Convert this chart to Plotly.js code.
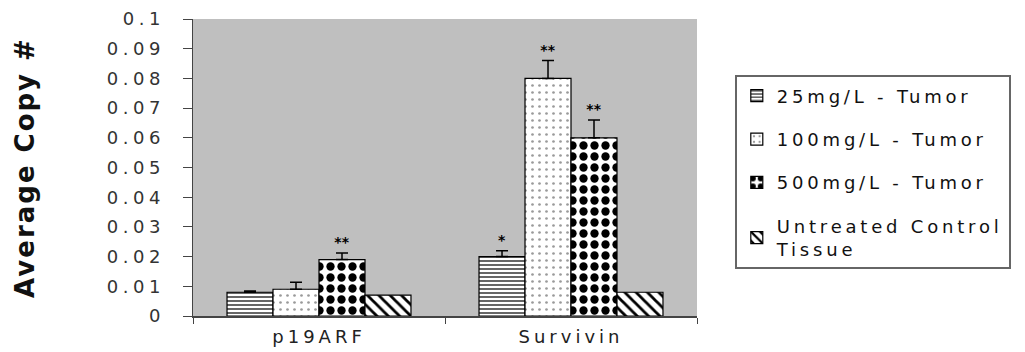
<!DOCTYPE html>
<html>
<head>
<meta charset="utf-8">
<script src="https://cdn.plot.ly/plotly-3.0.1.min.js"></script>
<style>
  html, body { margin: 0; padding: 0; background: #fff; }
  #chart { width: 1025px; height: 352px; }
  .ytick text { letter-spacing: 4.5px; }
  .xtick text { letter-spacing: 4px; }
  .legendtext { letter-spacing: 3.8px; }
  .g-ytitle text { letter-spacing: 2px; }
</style>
</head>
<body>
<div id="chart"></div>
<script>
const categories = ["p19ARF", "Survivin"];
const seriesNames = ["25mg/L - Tumor", "100mg/L - Tumor", "500mg/L - Tumor", "Untreated Control<br>Tissue"];
const dose25 = [0.008, 0.020];
const dose100 = [0.009, 0.080];
const dose500 = [0.019, 0.060];
const untreated = [0.007, 0.008];
const err25 = [0.0004, 0.002];
const err100 = [0.0024, 0.006];
const err500 = [0.0022, 0.006];
const errUntreated = [0, 0];
const stars25 = ["", "*"];
const stars100 = ["", "**"];
const stars500 = ["**", "**"];
const starsUntreated = ["", ""];

const values = [dose25, dose100, dose500, untreated];
const errors = [err25, err100, err500, errUntreated];
const stars = [stars25, stars100, stars500, starsUntreated];
const patterns = [
  {shape: "-", fgcolor: "#000", bgcolor: "#fff", size: 4, solidity: 0.3, fillmode: "replace"},
  {shape: ".", fgcolor: "#9a9a9a", bgcolor: "#fff", size: 7, solidity: 0.12, fillmode: "replace"},
  {shape: ".", fgcolor: "#000", bgcolor: "#fff", size: 11, solidity: 0.45, fillmode: "replace"},
  {shape: "\\", fgcolor: "#000", bgcolor: "#fff", size: 8, solidity: 0.35, fillmode: "replace"}
];

const traces = [];
values.forEach((vals, i) => {
  traces.push({
    type: "bar",
    name: seriesNames[i],
    x: categories,
    y: vals,
    offsetgroup: "g" + i,
    legendgroup: "l" + i,
    marker: {color: "#fff", pattern: patterns[i], line: {color: "#000", width: 1.2}},
    error_y: {
      type: "data", symmetric: false, array: errors[i],
      arrayminus: errors[i].map(() => 0),
      visible: errors[i].some(e => e > 0),
      color: "#000", thickness: 1.5, width: 6
    },
    hoverinfo: "skip"
  });
});
values.forEach((vals, i) => {
  traces.push({
    type: "bar",
    x: categories,
    y: vals.map((v, j) => v + errors[i][j]),
    offsetgroup: "g" + i,
    showlegend: false,
    marker: {color: "rgba(0,0,0,0)", line: {width: 0}},
    text: stars[i],
    textposition: "outside",
    cliponaxis: false,
    textfont: {family: "DejaVu Sans", size: 14, color: "#000", weight: "bold"},
    hoverinfo: "skip"
  });
});

const layout = {
  width: 1025,
  height: 352,
  margin: {l: 193, r: 328, t: 19, b: 36, pad: 0},
  paper_bgcolor: "#fff",
  plot_bgcolor: "#bfbfbf",
  barmode: "group",
  bargap: 0.27,
  bargroupgap: 0,
  showlegend: true,
  font: {family: "DejaVu Sans", color: "#222"},
  xaxis: {
    type: "category",
    showline: true, linecolor: "#444", linewidth: 1.5,
    ticks: "outside", tickson: "boundaries", ticklen: 6, tickcolor: "#444",
    ticklabelstandoff: 4,
    tickfont: {family: "DejaVu Sans", size: 18, color: "#222"},
    showgrid: false, zeroline: false, mirror: false
  },
  yaxis: {
    range: [0, 0.1], dtick: 0.01, tick0: 0,
    showline: true, linecolor: "#444", linewidth: 1.5,
    ticks: "outside", ticklen: 9, tickcolor: "#444",
    ticklabelstandoff: 14,
    tickfont: {family: "DejaVu Sans", size: 18, color: "#333"},
    showgrid: false, zeroline: false,
    title: {text: "Average Copy #", font: {family: "DejaVu Sans", size: 26, color: "#111", weight: "bold"}, standoff: 64}
  },
  legend: {
    x: 1.075, y: 0.81, xanchor: "left", yanchor: "top",
    bgcolor: "#fff", bordercolor: "#666", borderwidth: 2,
    font: {family: "DejaVu Sans", size: 18, color: "#111"},
    tracegroupgap: 17, itemwidth: 30, traceorder: "grouped"
  }
};

Plotly.newPlot("chart", traces, layout, {displayModeBar: false, staticPlot: true});
</script>
</body>
</html>
